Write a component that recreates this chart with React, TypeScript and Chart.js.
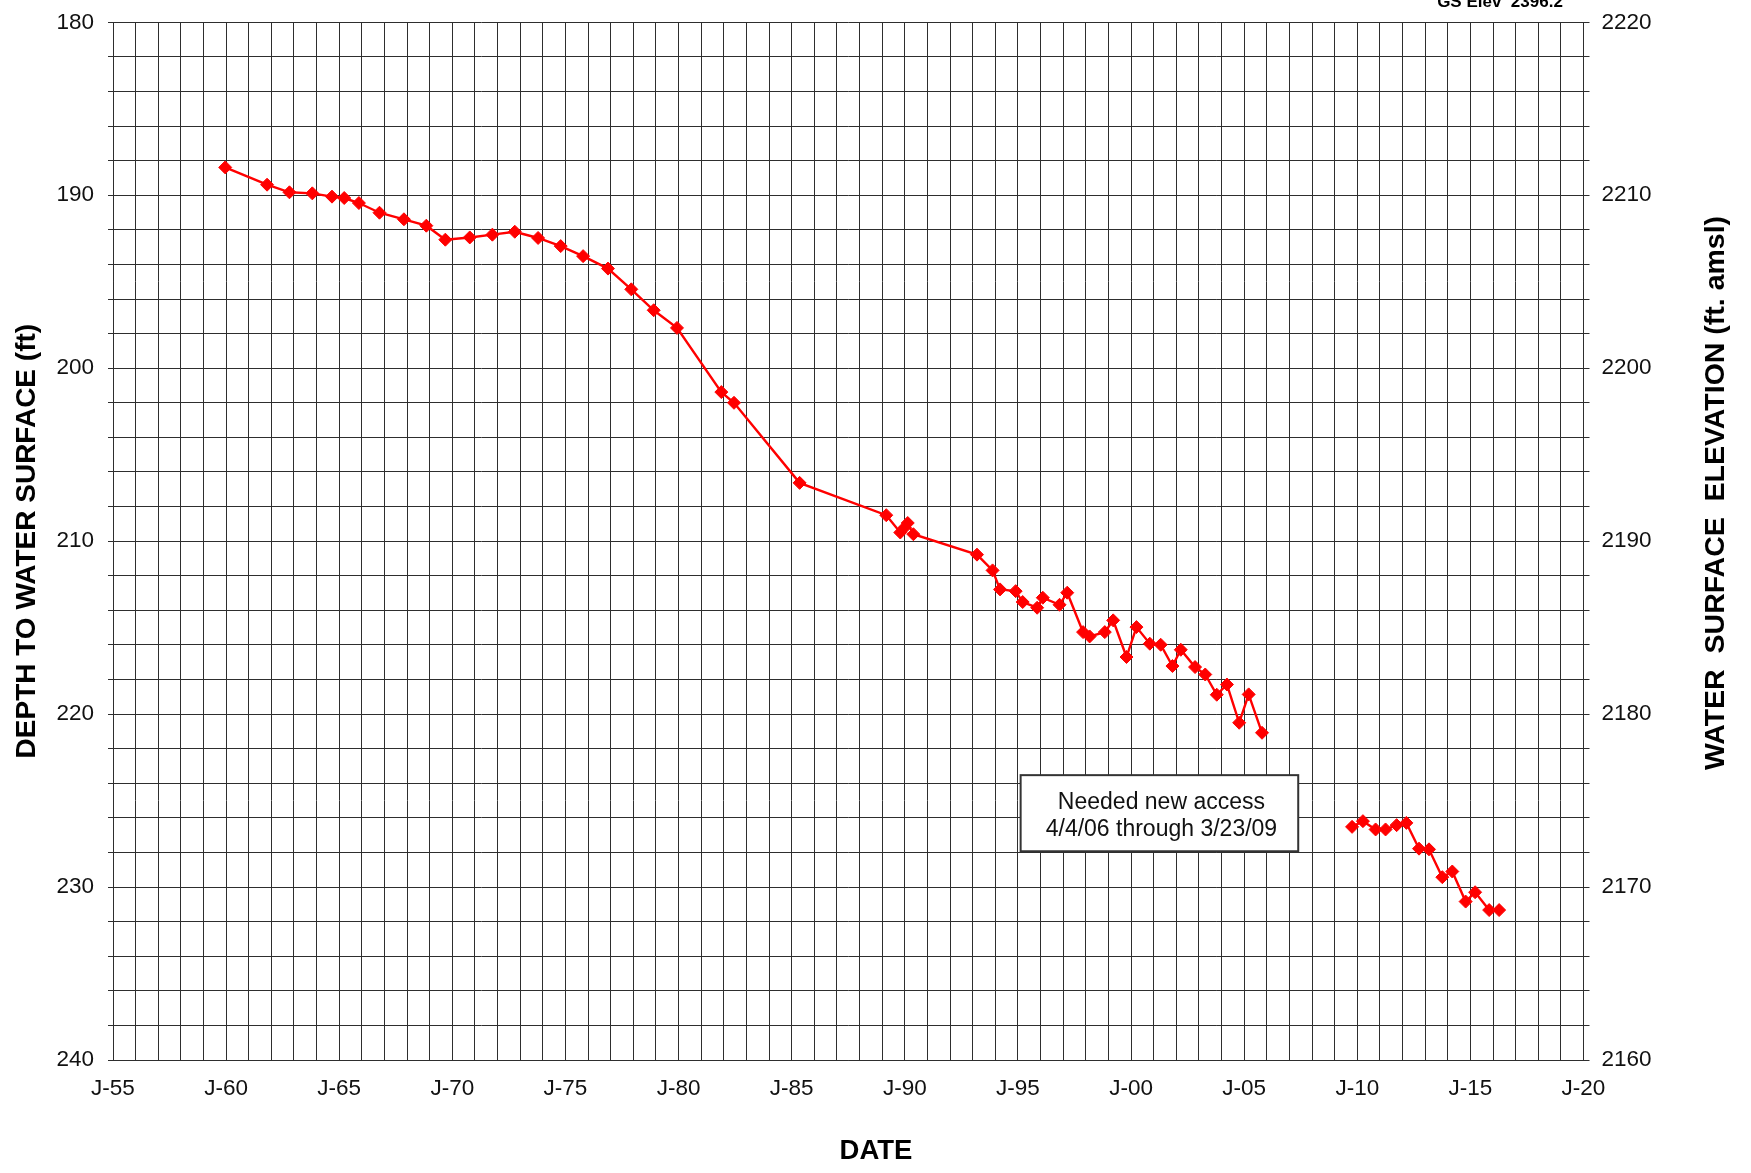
import React, { useEffect, useRef } from 'react';
import { Chart, registerables } from 'chart.js';

Chart.register(...registerables);

// ---- data (decimal year, depth to water in ft) ----
const DATES_BEFORE_GAP = [
  1959.96, 1961.81, 1962.8, 1963.81, 1964.68, 1965.22, 1965.87, 1966.78, 1967.86, 1968.85,
  1969.69, 1970.77, 1971.77, 1972.76, 1973.79, 1974.79, 1975.78, 1976.88, 1977.91, 1978.9,
  1979.93, 1981.89, 1982.45, 1985.35, 1989.18, 1989.8, 1990.0, 1990.13, 1990.38, 1993.19,
  1993.88, 1994.21, 1994.9, 1995.21, 1995.85, 1996.1, 1996.84, 1997.18, 1997.88, 1998.17,
  1998.84, 1999.21, 1999.8, 2000.24, 2000.83, 2001.31, 2001.83, 2002.2, 2002.83, 2003.28,
  2003.79, 2004.24, 2004.78, 2005.2, 2005.79,
];
const DEPTHS_BEFORE_GAP = [
  188.39, 189.39, 189.83, 189.89, 190.08, 190.16, 190.45, 191.01, 191.39, 191.76,
  192.57, 192.44, 192.28, 192.11, 192.47, 192.94, 193.52, 194.24, 195.44, 196.65,
  197.67, 201.38, 202.0, 206.63, 208.5, 209.5, 209.2, 208.95, 209.6, 210.78,
  211.69, 212.79, 212.89, 213.52, 213.85, 213.27, 213.68, 212.98, 215.26, 215.51,
  215.26, 214.58, 216.7, 214.97, 215.93, 215.99, 217.22, 216.28, 217.28, 217.71,
  218.88, 218.29, 220.5, 218.86, 221.08,
];
const DATES_AFTER_GAP = [
  2009.77, 2010.25, 2010.81, 2011.25, 2011.74, 2012.17, 2012.73, 2013.17, 2013.76, 2014.2,
  2014.79, 2015.21, 2015.83, 2016.27,
];
const DEPTHS_AFTER_GAP = [
  226.52, 226.19, 226.67, 226.67, 226.42, 226.29, 227.78, 227.82, 229.43, 229.1,
  230.84, 230.3, 231.33, 231.33,
];

// ---- tick labels ----
const YEAR_LABELS = [1955, 1960, 1965, 1970, 1975, 1980, 1985, 1990, 1995, 2000, 2005, 2010, 2015, 2020];
const DEPTH_LABELS = [180, 190, 200, 210, 220, 230, 240];
const ELEVATION_LABELS = [2160, 2170, 2180, 2190, 2200, 2210, 2220];

// ---- text ----
const LEFT_TITLE = 'DEPTH TO WATER SURFACE (ft)';
const RIGHT_TITLE = 'WATER  SURFACE  ELEVATION (ft. amsl)';
const X_TITLE = 'DATE';
const TOP_NOTE = 'GS Elev  2396.2';
const NOTE_LINES = ['Needed new access', '4/4/06 through 3/23/09'];
const NOTE_YEARS = [1995.12, 2007.39];
const NOTE_DEPTHS = [223.53, 227.93];

const FONT = '"Liberation Sans", Arial, Helvetica, sans-serif';
const GRID = '#2e2e2e';
const RED = '#ff0000';

const overlayPlugin = {
  id: 'overlay',
  afterDraw(chart: any) {
    const { ctx, scales } = chart;
    const x = scales.x;
    const y = scales.y;
    ctx.save();
    // annotation box
    const l = x.getPixelForValue(NOTE_YEARS[0]);
    const r = x.getPixelForValue(NOTE_YEARS[1]);
    const t = y.getPixelForValue(NOTE_DEPTHS[0]);
    const b = y.getPixelForValue(NOTE_DEPTHS[1]);
    ctx.fillStyle = '#ffffff';
    ctx.fillRect(l, t, r - l, b - t);
    ctx.lineWidth = 2;
    ctx.strokeStyle = '#333333';
    ctx.strokeRect(l, t, r - l, b - t);
    ctx.fillStyle = '#111111';
    ctx.font = `23px ${FONT}`;
    ctx.textAlign = 'center';
    ctx.textBaseline = 'middle';
    const cx = (l + r) / 2 + 2;
    const cy = (t + b) / 2 + 3;
    ctx.fillText(NOTE_LINES[0], cx, cy - 13.7);
    ctx.fillText(NOTE_LINES[1], cx, cy + 13.7);

    // right axis title (reads bottom to top)
    ctx.save();
    ctx.translate(chart.width - 35, 493);
    ctx.rotate(-Math.PI / 2);
    ctx.font = `bold 28.5px ${FONT}`;
    ctx.fillStyle = '#000000';
    ctx.fillText(RIGHT_TITLE, 0, 0);
    ctx.restore();

    // x title
    ctx.font = `bold 27.5px ${FONT}`;
    ctx.fillStyle = '#000000';
    ctx.fillText(X_TITLE, 876, 1151);

    // top note (cut by the top edge)
    ctx.font = `bold 17px ${FONT}`;
    ctx.textBaseline = 'alphabetic';
    ctx.fillText(TOP_NOTE, 1500, 6.5);
    ctx.restore();
  },
};

function yearLabel(v: number) {
  const yr = Math.round(v);
  if (!YEAR_LABELS.includes(yr) || Math.abs(v - yr) > 1e-6) return '';
  return 'J-' + String(yr % 100).padStart(2, '0');
}

export default function App() {
  const ref = useRef<HTMLCanvasElement | null>(null);
  useEffect(() => {
    if (!ref.current) return;
    const seriesStyle = {
      borderColor: RED,
      backgroundColor: RED,
      borderWidth: 2.4,
      pointStyle: 'rectRot' as const,
      pointRadius: 6.5,
      pointBorderWidth: 1,
      pointBackgroundColor: RED,
      pointBorderColor: RED,
      tension: 0,
      spanGaps: false,
    };
    const chart = new Chart(ref.current, {
      type: 'line',
      data: {
        datasets: [
          {
            label: 'Depth (before gap)',
            data: DATES_BEFORE_GAP.map((d, i) => ({ x: d, y: DEPTHS_BEFORE_GAP[i] })),
            ...seriesStyle,
          },
          {
            label: 'Depth (after gap)',
            data: DATES_AFTER_GAP.map((d, i) => ({ x: d, y: DEPTHS_AFTER_GAP[i] })),
            ...seriesStyle,
          },
        ],
      },
      options: {
        responsive: false,
        animation: false,
        layout: { padding: { top: 22.3, left: 0, right: 0, bottom: 0 } },
        plugins: {
          legend: { display: false },
          tooltip: { enabled: false },
        },
        scales: {
          x: {
            type: 'linear',
            min: 1955,
            max: 2020,
            afterFit: (s: any) => {
              s.height = 113;
            },
            grid: { color: GRID, lineWidth: 1, drawTicks: false },
            border: { display: true, color: GRID, width: 1 },
            ticks: {
              stepSize: 1,
              autoSkip: false,
              maxRotation: 0,
              minRotation: 0,
              padding: 15,
              color: '#111111',
              font: { family: FONT, size: 22.5 },
              callback: (v: any) => yearLabel(Number(v)),
            },
          },
          y: {
            type: 'linear',
            position: 'left',
            reverse: true,
            min: 180,
            max: 240,
            afterFit: (s: any) => {
              s.width = 113;
              s.paddingTop = 12;
              s.paddingBottom = 12;
            },
            grid: { color: GRID, lineWidth: 1, drawTicks: true, tickLength: 5 },
            border: { display: true, color: GRID, width: 1 },
            ticks: {
              stepSize: 2,
              autoSkip: false,
              padding: 14,
              color: '#111111',
              font: { family: FONT, size: 22.5 },
              callback: (v: any) => (DEPTH_LABELS.includes(Number(v)) ? String(v) : ''),
            },
            title: {
              display: true,
              text: LEFT_TITLE,
              color: '#000000',
              font: { family: FONT, size: 28, weight: 'bold' },
              padding: { top: 10, bottom: 0 },
            },
          },
          y2: {
            type: 'linear',
            position: 'right',
            min: 2160,
            max: 2220,
            afterFit: (s: any) => {
              s.width = 167.5;
              s.paddingTop = 12;
              s.paddingBottom = 12;
            },
            grid: { color: GRID, lineWidth: 1, drawOnChartArea: false, drawTicks: true, tickLength: 6 },
            border: { display: true, color: GRID, width: 1 },
            ticks: {
              stepSize: 2,
              autoSkip: false,
              padding: 12,
              color: '#111111',
              font: { family: FONT, size: 22.5 },
              callback: (v: any) => (ELEVATION_LABELS.includes(Number(v)) ? String(v) : ''),
            },
          },
        },
      },
      plugins: [overlayPlugin],
    } as any);
    return () => chart.destroy();
  }, []);

  return (
    <div style={{ position: 'fixed', left: 0, top: 0, width: 1751, height: 1173, background: '#ffffff' }}>
      <canvas ref={ref} width={1751} height={1173} style={{ width: 1751, height: 1173, display: 'block' }} />
    </div>
  );
}
